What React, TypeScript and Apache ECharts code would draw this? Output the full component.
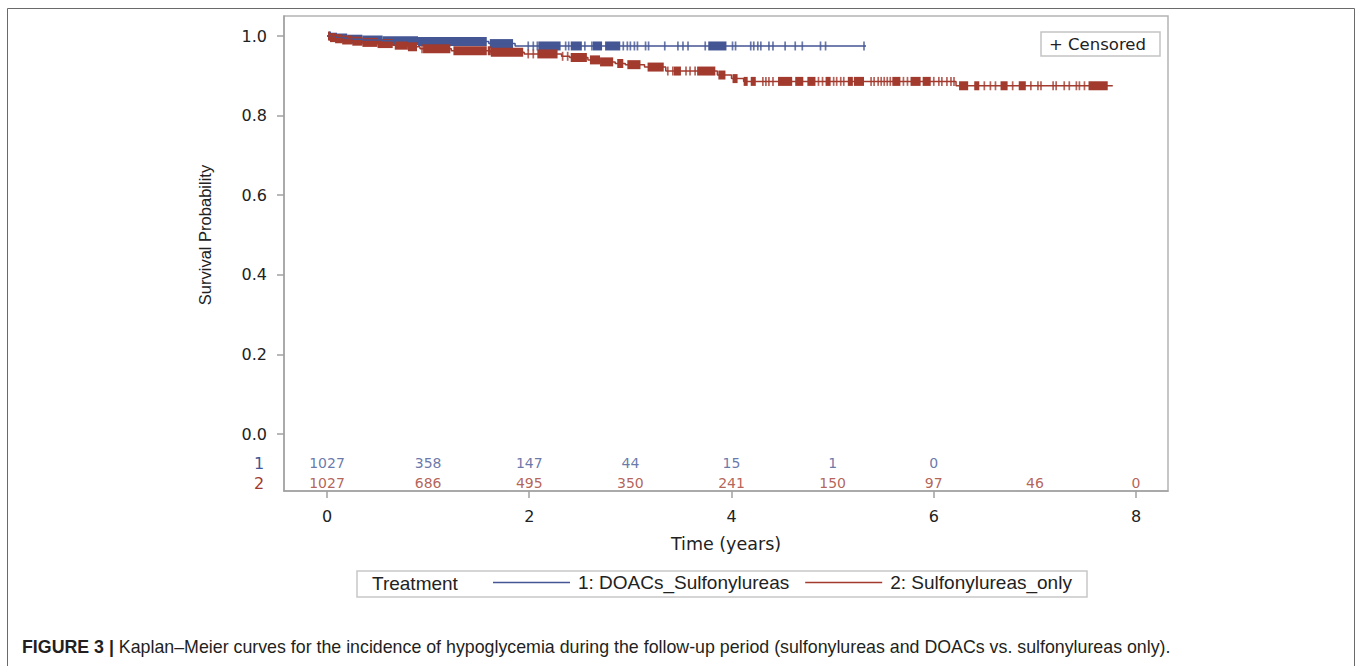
import React, { useEffect, useRef } from "react";
import * as echarts from "echarts";

const BLUE = "#445694";
const RED = "#A23A2E";
const SANS = "'Liberation Sans', Arial, sans-serif";
const WIDE = "'DejaVu Sans', Verdana, sans-serif";

const seriesNames = ["1: DOACs_Sulfonylureas", "2: Sulfonylureas_only"];
const groupLabels = ["1", "2"];
const legendTitle = "Treatment";
const censorLegend = "+ Censored";
const xName = "Time (years)";
const yName = "Survival Probability";
const captionBold = "FIGURE 3 |";
const captionText =
  " Kaplan–Meier curves for the incidence of hypoglycemia during the follow-up period (sulfonylureas and DOACs vs. sulfonylureas only).";

// Kaplan–Meier step points (time in years, survival probability)
const blueTimes = [0, 0.04, 0.1, 0.2, 0.35, 0.55, 0.9, 1.6, 1.86, 5.33];
const blueSurv = [1.0, 0.997, 0.995, 0.992, 0.99, 0.988, 0.986, 0.981, 0.975, 0.975];

const redTimes = [0, 0.03, 0.08, 0.15, 0.25, 0.35, 0.5, 0.65, 0.8, 0.92, 1.23, 1.62, 1.95, 2.32, 2.4, 2.58, 2.7, 2.85, 2.95, 3.14, 3.35, 3.86, 4.0, 4.12, 6.22, 7.77];
const redSurv = [1.0, 0.996, 0.993, 0.99, 0.987, 0.984, 0.981, 0.977, 0.973, 0.968, 0.963, 0.959, 0.955, 0.949, 0.946, 0.94, 0.935, 0.931, 0.928, 0.922, 0.912, 0.902, 0.893, 0.886, 0.875, 0.875];

// Censored observations: single marks, and dense runs of marks [start, end]
const blueCensorTicks = [1.99, 2.04, 2.08, 2.36, 2.39, 2.55, 2.62, 2.93, 2.97, 3.0, 3.04, 3.07, 3.15, 3.18, 3.34, 3.47, 3.52, 3.57, 3.74, 4.01, 4.04, 4.19, 4.22, 4.26, 4.29, 4.37, 4.41, 4.53, 4.63, 4.7, 4.88, 4.93, 5.31];
const blueCensorRuns = [[0.02, 1.58], [1.61, 1.84], [2.09, 2.31], [2.41, 2.52], [2.63, 2.72], [2.75, 2.9], [3.77, 3.95]];

const redCensorTicks = [0.94, 1.99, 2.04, 2.33, 2.38, 3.37, 3.42, 3.55, 3.59, 3.64, 4.31, 4.34, 4.37, 4.41, 4.86, 4.9, 5.01, 5.04, 5.08, 5.11, 5.38, 5.41, 5.45, 5.48, 5.51, 5.54, 5.57, 5.7, 5.74, 6.0, 6.05, 6.08, 6.13, 6.17, 6.2, 6.5, 6.56, 6.61, 6.78, 6.96, 7.03, 7.06, 7.18, 7.21, 7.29, 7.34, 7.41, 7.44, 7.49];
const redCensorRuns = [[0.01, 0.65], [0.67, 0.89], [0.95, 1.22], [1.25, 1.58], [1.59, 1.94], [2.08, 2.28], [2.41, 2.57], [2.6, 2.83], [2.87, 2.93], [2.97, 3.1], [3.17, 3.33], [3.43, 3.5], [3.66, 3.84], [3.87, 3.94], [4.01, 4.06], [4.12, 4.16], [4.19, 4.24], [4.46, 4.6], [4.63, 4.71], [4.75, 4.83], [4.93, 4.98], [5.15, 5.2], [5.21, 5.31], [5.59, 5.67], [5.77, 5.87], [5.89, 5.97], [6.25, 6.34], [6.4, 6.45], [6.66, 6.73], [6.84, 6.91], [7.53, 7.72]];

// Number at risk
const atRiskTimesBlue = [0, 1, 2, 3, 4, 5, 6];
const blueAtRisk = [1027, 358, 147, 44, 15, 1, 0];
const atRiskTimesRed = [0, 1, 2, 3, 4, 5, 6, 7, 8];
const redAtRisk = [1027, 686, 495, 350, 241, 150, 97, 46, 0];
const atRiskRowLevels = [-0.073, -0.124];

const xTicks = [0, 2, 4, 6, 8];
const yTicks = [0, 0.2, 0.4, 0.6, 0.8, 1.0];

function survAt(times: number[], surv: number[], t: number) {
  let v = surv[0];
  for (let i = 0; i < times.length; i++) if (times[i] <= t) v = surv[i];
  return v;
}

function splitRuns(runs: number[][], times: number[], surv: number[]) {
  const out: number[][] = [];
  runs.forEach(([s, e]) => {
    for (let i = 0; i < times.length; i++) {
      const a = Math.max(s, times[i]);
      const b = Math.min(e, i + 1 < times.length ? times[i + 1] : Infinity);
      if (b > a) out.push([a, b, surv[i]]);
    }
  });
  return out;
}

function runSeries(data: number[][], color: string) {
  return {
    type: "custom",
    silent: true,
    data,
    encode: { x: [0, 1], y: 2 },
    renderItem: (_p: any, api: any) => {
      const a = api.coord([api.value(0), api.value(2)]);
      const b = api.coord([api.value(1), api.value(2)]);
      return {
        type: "rect",
        shape: { x: a[0], y: a[1] - 4.5, width: Math.max(b[0] - a[0], 1.6), height: 9 },
        style: { fill: color },
      };
    },
  };
}

export default function App() {
  const ref = useRef<HTMLDivElement>(null);
  useEffect(() => {
    document.body.style.margin = "0";
    const chart = echarts.init(ref.current!, null, { renderer: "svg" });
    const option: any = {
      animation: false,
      backgroundColor: "#ffffff",
      grid: {
        left: 284, right: 189, top: 16, bottom: 175,
        show: true, borderColor: "#b4b4b4", borderWidth: 1.5,
      },
      legend: {
        data: seriesNames.map((n) => ({ name: n, icon: "rect" })),
        left: 493, top: 573, padding: 0,
        itemWidth: 77, itemHeight: 1.6, itemGap: 16,
        textStyle: { fontFamily: SANS, fontSize: 19, color: "#222", padding: [0, 0, 0, 3] },
        selectedMode: false,
      },
      xAxis: {
        type: "value", min: -0.425, max: 8.316,
        axisLine: { show: true, onZero: false, lineStyle: { color: "#a0a0a0", width: 1.5 } },
        axisTick: { show: true, customValues: xTicks, length: 7, lineStyle: { color: "#a0a0a0", width: 1.5 } },
        axisLabel: { customValues: xTicks, margin: 17, fontFamily: WIDE, fontSize: 16, color: "#222" },
        splitLine: { show: false },
        name: xName, nameLocation: "middle", nameGap: 44,
        nameTextStyle: { fontFamily: WIDE, fontSize: 17.5, color: "#222" },
      },
      yAxis: {
        type: "value", min: -0.1432, max: 1.0503,
        axisLine: { show: true, onZero: false, lineStyle: { color: "#a0a0a0", width: 1.5 } },
        axisTick: { show: true, customValues: yTicks, length: 7, lineStyle: { color: "#a0a0a0", width: 1.5 } },
        axisLabel: {
          customValues: yTicks, margin: 17, fontFamily: WIDE, fontSize: 16, color: "#222",
          formatter: (v: number) => v.toFixed(1),
        },
        splitLine: { show: false },
      },
      series: [
        {
          name: seriesNames[0], type: "line", step: "end", symbol: "none", silent: true,
          lineStyle: { color: BLUE, width: 1.5 }, itemStyle: { color: BLUE },
          data: blueTimes.map((t, i) => [t, blueSurv[i]]),
        },
        runSeries(splitRuns(blueCensorRuns, blueTimes, blueSurv), BLUE),
        {
          type: "scatter", silent: true, symbol: "rect", symbolSize: [1.7, 9],
          itemStyle: { color: BLUE },
          data: blueCensorTicks.map((t) => [t, survAt(blueTimes, blueSurv, t)]),
        },
        {
          name: seriesNames[1], type: "line", step: "end", symbol: "none", silent: true,
          lineStyle: { color: RED, width: 1.5 }, itemStyle: { color: RED },
          data: redTimes.map((t, i) => [t, redSurv[i]]),
        },
        runSeries(splitRuns(redCensorRuns, redTimes, redSurv), RED),
        {
          type: "scatter", silent: true, symbol: "rect", symbolSize: [1.7, 9],
          itemStyle: { color: RED },
          data: redCensorTicks.map((t) => [t, survAt(redTimes, redSurv, t)]),
        },
        {
          type: "scatter", silent: true, symbolSize: 1, itemStyle: { color: "transparent" },
          data: atRiskTimesBlue.map((t, i) => [t, atRiskRowLevels[0], blueAtRisk[i]]),
          label: {
            show: true, position: "inside", formatter: (p: any) => String(p.value[2]),
            color: BLUE, fontFamily: WIDE, fontSize: 14,
          },
        },
        {
          type: "scatter", silent: true, symbolSize: 1, itemStyle: { color: "transparent" },
          data: atRiskTimesRed.map((t, i) => [t, atRiskRowLevels[1], redAtRisk[i]]),
          label: {
            show: true, position: "inside", formatter: (p: any) => String(p.value[2]),
            color: RED, fontFamily: WIDE, fontSize: 14,
          },
        },
      ],
    };
    chart.setOption(option);

    const py = (v: number) => (chart.convertToPixel({ gridIndex: 0 } as any, [0, v]) as number[])[1];
    const row1 = py(atRiskRowLevels[0]);
    const row2 = py(atRiskRowLevels[1]);
    const yMid = (py(0) + py(1)) / 2;

    chart.setOption({
      graphic: [
        {
          type: "rect", silent: true, z: 0,
          shape: { x: 7.5, y: 8.5, width: 1347, height: 700 },
          style: { fill: "none", stroke: "#6a6a6a", lineWidth: 1 },
        },
        {
          type: "text", silent: true, x: 205, y: yMid, rotation: Math.PI / 2,
          style: { text: yName, fontFamily: SANS, fontSize: 16.5, fill: "#222", align: "center", verticalAlign: "middle" },
        },
        {
          type: "text", silent: true, x: 259, y: row1,
          style: { text: groupLabels[0], fontFamily: WIDE, fontSize: 16, fill: BLUE, align: "center", verticalAlign: "middle" },
        },
        {
          type: "text", silent: true, x: 259, y: row2,
          style: { text: groupLabels[1], fontFamily: WIDE, fontSize: 16, fill: RED, align: "center", verticalAlign: "middle" },
        },
        {
          type: "rect", silent: true,
          shape: { x: 1041, y: 32, width: 119, height: 24 },
          style: { fill: "#fff", stroke: "#c4c4c4", lineWidth: 1.5 },
        },
        {
          type: "text", silent: true, x: 1049, y: 44,
          style: { text: censorLegend, fontFamily: WIDE, fontSize: 16.5, fill: "#222", align: "left", verticalAlign: "middle" },
        },
        {
          type: "rect", silent: true,
          shape: { x: 357, y: 571, width: 730, height: 26 },
          style: { fill: "none", stroke: "#c8c8c8", lineWidth: 1.5 },
        },
        {
          type: "text", silent: true, x: 372, y: 583,
          style: { text: legendTitle, fontFamily: SANS, fontSize: 19, fill: "#222", align: "left", verticalAlign: "middle" },
        },
        {
          type: "text", silent: true, x: 22, y: 647,
          style: {
            text: "{b|" + captionBold + "}" + captionText,
            fontFamily: SANS, fontSize: 17.8, fill: "#231f20", align: "left", verticalAlign: "middle",
            rich: { b: { fontFamily: SANS, fontSize: 17.8, fontWeight: "bold", fill: "#231f20" } },
          },
        },
      ],
    });
    return () => chart.dispose();
  }, []);
  return <div ref={ref} style={{ width: 1357, height: 666 }} />;
}
